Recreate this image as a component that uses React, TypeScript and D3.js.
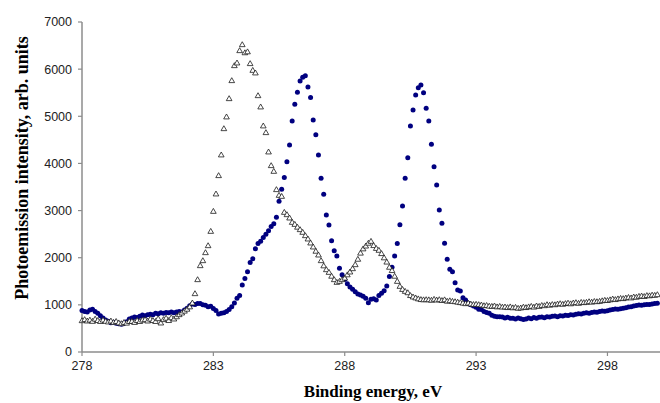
import { useMemo } from 'react';
import * as d3 from 'd3';

// binding energy grid, eV
const energy = [
  278.0, 278.1, 278.2, 278.3, 278.4, 278.5, 278.6, 278.7, 278.8, 278.9,
  279.0, 279.1, 279.2, 279.3, 279.4, 279.5, 279.6, 279.7, 279.8, 279.9,
  280.0, 280.1, 280.2, 280.3, 280.4, 280.5, 280.6, 280.7, 280.8, 280.9,
  281.0, 281.1, 281.2, 281.3, 281.4, 281.5, 281.6, 281.7, 281.8, 281.9,
  282.0, 282.1, 282.2, 282.3, 282.4, 282.5, 282.6, 282.7, 282.8, 282.9,
  283.0, 283.1, 283.2, 283.3, 283.4, 283.5, 283.6, 283.7, 283.8, 283.9,
  284.0, 284.1, 284.2, 284.3, 284.4, 284.5, 284.6, 284.7, 284.8, 284.9,
  285.0, 285.1, 285.2, 285.3, 285.4, 285.5, 285.6, 285.7, 285.8, 285.9,
  286.0, 286.1, 286.2, 286.3, 286.4, 286.5, 286.6, 286.7, 286.8, 286.9,
  287.0, 287.1, 287.2, 287.3, 287.4, 287.5, 287.6, 287.7, 287.8, 287.9,
  288.0, 288.1, 288.2, 288.3, 288.4, 288.5, 288.6, 288.7, 288.8, 288.9,
  289.0, 289.1, 289.2, 289.3, 289.4, 289.5, 289.6, 289.7, 289.8, 289.9,
  290.0, 290.1, 290.2, 290.3, 290.4, 290.5, 290.6, 290.7, 290.8, 290.9,
  291.0, 291.1, 291.2, 291.3, 291.4, 291.5, 291.6, 291.7, 291.8, 291.9,
  292.0, 292.1, 292.2, 292.3, 292.4, 292.5, 292.6, 292.7, 292.8, 292.9,
  293.0, 293.1, 293.2, 293.3, 293.4, 293.5, 293.6, 293.7, 293.8, 293.9,
  294.0, 294.1, 294.2, 294.3, 294.4, 294.5, 294.6, 294.7, 294.8, 294.9,
  295.0, 295.1, 295.2, 295.3, 295.4, 295.5, 295.6, 295.7, 295.8, 295.9,
  296.0, 296.1, 296.2, 296.3, 296.4, 296.5, 296.6, 296.7, 296.8, 296.9,
  297.0, 297.1, 297.2, 297.3, 297.4, 297.5, 297.6, 297.7, 297.8, 297.9,
  298.0, 298.1, 298.2, 298.3, 298.4, 298.5, 298.6, 298.7, 298.8, 298.9,
  299.0, 299.1, 299.2, 299.3, 299.4, 299.5, 299.6, 299.7, 299.8, 299.9,
];

// open triangles
const triangleSeries = [
  657, 680, 650, 670, 643, 690, 660, 640, 670, 643,
  630, 650, 620, 640, 610, 594, 620, 605, 640, 643,
  620, 660, 640, 670, 679, 650, 690, 660, 640, 700,
  608, 680, 710, 660, 720, 693, 740, 785, 820, 860,
  900, 950, 1033, 1230, 1527, 1824, 1930, 2100, 2248, 2552,
  2976, 3345, 3734, 4173, 4730, 4979, 5367, 5749, 6067, 6124,
  6385, 6512, 6340, 6360, 6110, 5967, 5912, 5430, 5191, 4788,
  4646, 4236, 3946, 3825, 3437, 3316, 3294, 2955, 2906, 2835,
  2743, 2700, 2640, 2588, 2531, 2460, 2390, 2305, 2220, 2130,
  2050, 1930, 1820, 1739, 1682, 1600, 1527, 1470, 1491, 1527,
  1560, 1630, 1690, 1760, 1845, 1960, 2090, 2180, 2240, 2300,
  2340, 2250, 2190, 2150, 2080, 1990, 1900, 1790, 1720, 1600,
  1491, 1385, 1320, 1279, 1250, 1190, 1160, 1140, 1120, 1105,
  1100, 1103, 1100, 1090, 1110, 1095, 1103, 1085, 1100, 1070,
  1080, 1067, 1060, 1050, 1040, 1030, 1018, 1030, 1010, 1000,
  1005, 997, 990, 975, 980, 965, 961, 970, 950, 960,
  945, 948, 935, 950, 930, 940, 920, 927, 945, 935,
  950, 961, 945, 970, 960, 980, 975, 997, 985, 1000,
  995, 1010, 1018, 1005, 1020, 1030, 1015, 1033, 1040, 1025,
  1045, 1040, 1046, 1060, 1050, 1065, 1060, 1067, 1080, 1090,
  1085, 1100, 1117, 1105, 1120, 1130, 1125, 1138, 1150, 1140,
  1160, 1155, 1173, 1180, 1170, 1190, 1185, 1200, 1195, 1209,
];

// filled navy circles
const circleSeries = [
  880, 860, 850, 890, 905, 860, 820, 770, 720, 680,
  650, 620, 630, 610, 600, 590, 610, 640, 700, 720,
  740, 730, 760, 785, 770, 790, 800, 790, 820, 810,
  833, 820, 840, 830, 850, 835, 850, 860, 850, 890,
  930, 980, 1018, 1010, 1030, 1030, 1000, 990, 960, 970,
  925, 880, 805, 820, 833, 860, 900, 960, 1040, 1139,
  1200, 1420, 1560, 1700, 1900, 1980, 2190, 2300, 2350, 2430,
  2500, 2570, 2660, 2720, 2860, 3200, 3450, 3700, 4036, 4390,
  4900, 5254, 5508, 5748, 5826, 5860, 5620, 5400, 4920, 4609,
  4178, 3684, 3345, 2906, 2694, 2361, 2149, 2036, 1775, 1640,
  1540, 1450, 1380, 1330, 1279, 1230, 1210, 1180, 1140, 1046,
  1120, 1130, 1103, 1200, 1245, 1300, 1400, 1600, 1800, 2036,
  2300, 2700, 3097, 3684, 4121, 4794, 5133, 5450, 5606, 5663,
  5500, 5169, 4900, 4405, 3930, 3542, 3012, 2730, 2305, 1966,
  1754, 1703, 1470, 1315, 1294, 1152, 1103, 1033, 1000, 976,
  950, 906, 900, 860, 840, 821, 780, 760, 750, 749,
  740, 720, 735, 715, 715, 700, 720, 705, 690, 700,
  720, 705, 730, 715, 736, 740, 725, 750, 745, 760,
  764, 750, 770, 765, 780, 775, 790, 785, 800, 810,
  805, 820, 830, 821, 840, 850, 845, 860, 870, 865,
  876, 890, 900, 910, 905, 920, 927, 940, 955, 960,
  975, 985, 997, 990, 1000, 1010, 1005, 1020, 1030, 1033,
];

const xTicks = [278, 283, 288, 293, 298];
const yTicks = [0, 1000, 2000, 3000, 4000, 5000, 6000, 7000];

const W = 660;
const H = 403;
const margin = { top: 22, right: 0, bottom: 51, left: 82 };

export default function App() {
  const x = d3.scaleLinear().domain([278, 300]).range([margin.left, W - margin.right]);
  const y = d3.scaleLinear().domain([0, 7000]).range([H - margin.bottom, margin.top]);
  const tri = useMemo(() => d3.symbol(d3.symbolTriangle, 14)(), []);
  const axisColor = '#8c8c8c';
  const tickFont = 'Arial, "Liberation Sans", sans-serif';
  const titleFont = '"Liberation Serif", "Times New Roman", serif';
  const y0 = y(0);

  return (
    <svg width={W} height={H} style={{ position: 'absolute', left: 0, top: 0, background: '#fff' }}>
      {/* axes */}
      <line x1={x(278)} x2={x(278)} y1={y(7000)} y2={y0} stroke={axisColor} strokeWidth={1.5} />
      <line x1={x(278)} x2={W} y1={y0} y2={y0} stroke={axisColor} strokeWidth={1.5} />
      {yTicks.map((t) => (
        <g key={'y' + t}>
          <line x1={x(278) - 4} x2={x(278)} y1={y(t)} y2={y(t)} stroke={axisColor} strokeWidth={1.2} />
          <text x={x(278) - 10} y={y(t)} dy="0.35em" textAnchor="end" fontFamily={tickFont} fontSize={12.5} fill="#222">
            {t}
          </text>
        </g>
      ))}
      {xTicks.map((t) => (
        <g key={'x' + t}>
          <line x1={x(t)} x2={x(t)} y1={y0} y2={y0 + 4} stroke={axisColor} strokeWidth={1.2} />
          <text x={x(t)} y={y0 + 18} textAnchor="middle" fontFamily={tickFont} fontSize={12.5} fill="#222">
            {t}
          </text>
        </g>
      ))}

      {/* circles */}
      {circleSeries.map((v, i) => (
        <circle key={'c' + i} cx={x(energy[i])} cy={y(v)} r={2.5} fill="#000080" />
      ))}
      {/* triangles */}
      {triangleSeries.map((v, i) => (
        <path
          key={'t' + i}
          d={tri}
          transform={`translate(${x(energy[i])},${y(v)})`}
          fill="#fff"
          stroke="#1a1a1a"
          strokeWidth={0.8}
        />
      ))}

      {/* titles */}
      <text
        transform={`translate(28,168) rotate(-90)`}
        textAnchor="middle"
        fontFamily={titleFont}
        fontWeight="bold"
        fontSize={18}
        fill="#000"
      >
        Photoemission intensity, arb. units
      </text>
      <text x={373} y={397} textAnchor="middle" fontFamily={titleFont} fontWeight="bold" fontSize={17} fill="#000">
        Binding energy, eV
      </text>
    </svg>
  );
}
